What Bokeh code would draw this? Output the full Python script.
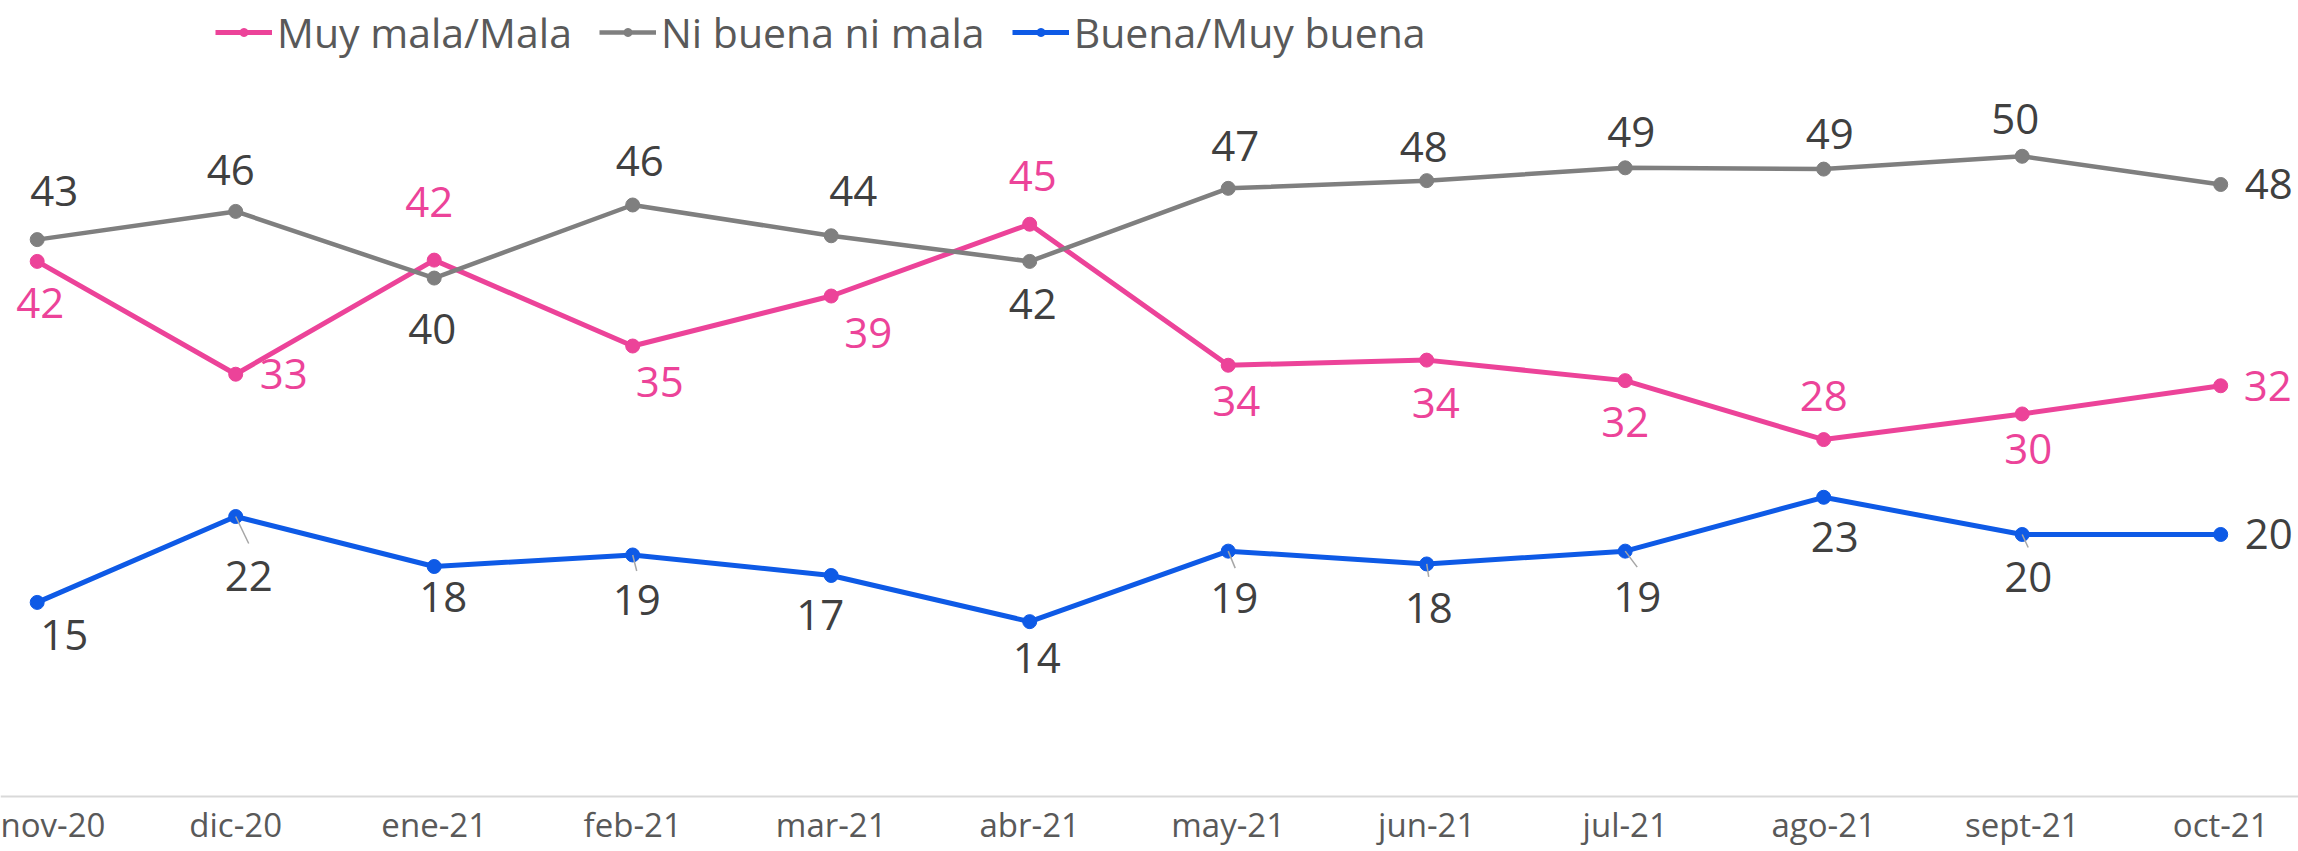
from bokeh.plotting import figure
from bokeh.models import Range1d, FixedTicker, Legend, LegendItem, ColumnDataSource
from bokeh.core.properties import value
from bokeh.embed import file_html
from bokeh.resources import INLINE

# ---------------- data ----------------
categories = ["nov-20", "dic-20", "ene-21", "feb-21", "mar-21", "abr-21",
              "may-21", "jun-21", "jul-21", "ago-21", "sept-21", "oct-21"]
series_names = ["Muy mala/Mala", "Ni buena ni mala", "Buena/Muy buena"]
mala = [41.7, 32.9, 41.8, 35.1, 39.0, 44.6, 33.6, 34.0, 32.4, 27.8, 29.8, 32.0]
ni = [43.4, 45.6, 40.4, 46.1, 43.7, 41.7, 47.4, 48.0, 49.0, 48.9, 49.9, 47.7]
buena = [15.1, 21.8, 17.9, 18.8, 17.2, 13.6, 19.1, 18.1, 19.1, 23.3, 20.4, 20.4]
mala_labels = ["42", "33", "42", "35", "39", "45", "34", "34", "32", "28", "30", "32"]
ni_labels = ["43", "46", "40", "46", "44", "42", "47", "48", "49", "49", "50", "48"]
buena_labels = ["15", "22", "18", "19", "17", "14", "19", "18", "19", "23", "20", "20"]

# ---------------- label placement (screen px offsets) ----------------
mala_off = [(3, 42), (48, 0), (-5, -58), (27, 36), (37, 37), (3, -48),
            (8, 36), (9, 43), (0, 41), (0, -44), (6, 35), (47, 0)]
ni_off = [(17, -49), (-5, -41), (-2, 51), (7, -44), (22, -45), (3, 43),
          (7, -42), (-3, -34), (6, -36), (6, -35), (-7, -37), (48, 0)]
buena_off = [(27, 33), (13, 59), (9, 30), (4, 45), (-11, 40), (7, 36),
             (6, 47), (2, 44), (12, 46), (11, 40), (6, 43), (48, 0)]
# leader lines (index, end offset in px)
leaders = [(1, 13, 27), (3, 4, 16), (6, 7, 17), (7, 2, 13), (8, 12, 16), (10, 6, 13)]

PINK = "#EC4399"
GRAY = "#7F7F7F"
BLUE = "#0E5AE6"
DARK = "#404040"

W, H = 2298, 851
PX_X = 198.5      # px per category
PX_Y = 12.82      # px per unit
X0 = 36.7         # px of first category
Y0 = 795.5        # px (from top) of value 0

p = figure(width=W, height=H, output_backend="svg", toolbar_location=None,
           x_range=Range1d(-X0 / PX_X, (W - X0) / PX_X),
           y_range=Range1d(-(H - Y0) / PX_Y, Y0 / PX_Y),
           min_border_left=0, min_border_right=0, min_border_top=0, min_border_bottom=0)
p.outline_line_color = None
p.xgrid.visible = False
p.ygrid.visible = False
p.yaxis.visible = False
p.background_fill_color = "white"
p.border_fill_color = "white"

xs = list(range(len(categories)))

ax = p.xaxis[0]
ax.fixed_location = 0
ax.ticker = FixedTicker(ticks=xs)
ax.major_label_overrides = {i: c for i, c in enumerate(categories)}
ax.axis_line_color = "#D9D9D9"
ax.axis_line_width = 2
ax.major_tick_line_color = None
ax.minor_tick_line_color = None
ax.major_label_text_font = "Open Sans"
ax.major_label_text_font_size = "33px"
ax.major_label_text_color = "#595959"
ax.major_label_standoff = 0

renderers = []
for vals, color, width in [(mala, PINK, 5), (ni, GRAY, 4.5), (buena, BLUE, 5)]:
    lr = p.line(xs, vals, line_color=color, line_width=width)
    sr = p.scatter(xs, vals, size=14, fill_color=color, line_color=color)
    renderers.append((lr, sr))

# leader lines for blue series
lx0, ly0, lx1, ly1 = [], [], [], []
for i, dx, dy in leaders:
    lx0.append(i)
    ly0.append(buena[i])
    lx1.append(i + dx / PX_X)
    ly1.append(buena[i] - dy / PX_Y)
p.segment(lx0, ly0, lx1, ly1, line_color="#A6A6A6", line_width=1.5)

for vals, labels, offs, color in [(mala, mala_labels, mala_off, PINK),
                                   (ni, ni_labels, ni_off, DARK),
                                   (buena, buena_labels, buena_off, DARK)]:
    src = ColumnDataSource(dict(x=xs, y=vals, t=labels,
                                dx=[o[0] for o in offs], dy=[o[1] for o in offs]))
    p.text(x="x", y="y", text="t", x_offset="dx", y_offset="dy", source=src,
           text_font=value("Open Sans"), text_font_size=value("42px"),
           text_color=color, text_align="center", text_baseline="middle")

legend = Legend(items=[LegendItem(label=n, renderers=list(r)) for n, r in zip(series_names, renderers)],
                orientation="horizontal", location=(215, 791),
                glyph_width=57, glyph_height=20, label_standoff=5, spacing=27,
                padding=0, margin=0, border_line_color=None, background_fill_alpha=0,
                label_text_font="Open Sans", label_text_font_size="41px",
                label_text_color="#595959")
p.add_layout(legend)

open("out.html", "w").write(file_html(p, INLINE))
